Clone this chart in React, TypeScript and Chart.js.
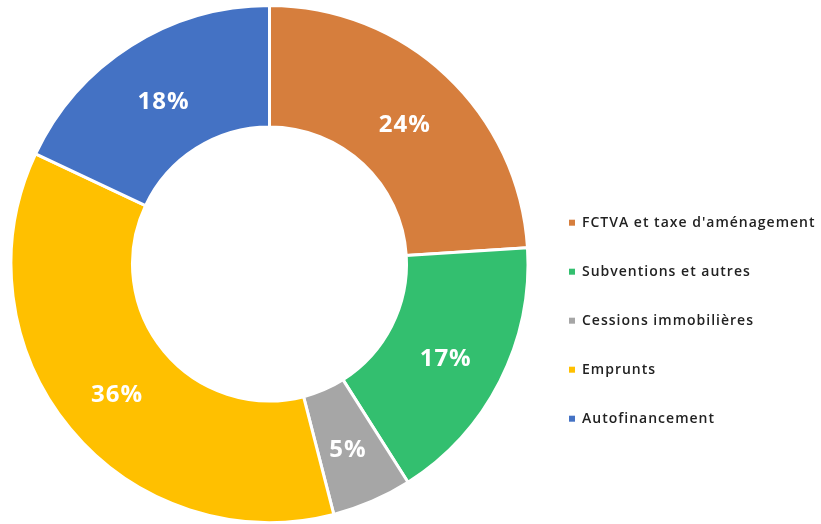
import React, { useEffect, useRef } from "react";
import { Chart, registerables } from "chart.js";

Chart.register(...registerables);

const categories = [
  "FCTVA et taxe d'aménagement",
  "Subventions et autres",
  "Cessions immobilières",
  "Emprunts",
  "Autofinancement",
];
const shares = [24, 17, 5, 36, 18];
const sliceColors = ["#D67E3D", "#33BF6F", "#A6A6A6", "#FFC000", "#4472C4"];

export default function App() {
  const ref = useRef<HTMLCanvasElement>(null);

  useEffect(() => {
    if (!ref.current) return;
    const spacingPlugin = {
      id: "letterSpacing",
      beforeLayout(chart: any) {
        chart.ctx.letterSpacing = "1px";
      },
      beforeDraw(chart: any) {
        chart.ctx.letterSpacing = "1px";
      },
    };
    const labelPlugin = {
      id: "sliceLabels",
      afterDatasetsDraw(chart: any) {
        const ctx = chart.ctx;
        const meta = chart.getDatasetMeta(0);
        ctx.save();
        ctx.letterSpacing = "1px";
        ctx.font = "bold 24px 'Open Sans'";
        ctx.fillStyle = "#ffffff";
        ctx.textAlign = "center";
        ctx.textBaseline = "middle";
        meta.data.forEach((arc: any, i: number) => {
          const p = arc.tooltipPosition(false);
          ctx.fillText(`${shares[i]}%`, p.x, p.y + 5);
        });
        ctx.restore();
      },
    };
    const defaultGen = (Chart as any).overrides.doughnut.plugins.legend.labels.generateLabels;
    const chart = new Chart(ref.current, {
      type: "doughnut",
      data: {
        labels: categories,
        datasets: [
          {
            data: shares,
            backgroundColor: sliceColors,
            borderColor: "#ffffff",
            borderWidth: 3,
          },
        ],
      },
      options: {
        animation: false,
        responsive: true,
        maintainAspectRatio: false,
        events: [],
        cutout: "53%",
        layout: { padding: { left: 5, right: 0, top: 4, bottom: 0 } },
        plugins: {
          tooltip: { enabled: false },
          legend: {
            position: "right",
            align: "center",
            maxWidth: 287,
            title: {
              display: true,
              text: "",
              padding: { top: 99, bottom: 0 },
              font: { size: 12, lineHeight: 1.2 },
            },
            labels: {
              boxWidth: 6,
              boxHeight: 6,
              padding: 35,
              color: "#222222",
              font: { family: "'Open Sans'", size: 14, weight: 600 },
              generateLabels: (c: any) =>
                defaultGen(c).map((it: any) => ({ ...it, lineWidth: 0 })),
            },
          },
        },
      } as any,
      plugins: [spacingPlugin, labelPlugin],
    });
    return () => chart.destroy();
  }, []);

  return (
    <div style={{ position: "fixed", left: 0, top: 0, width: 821, height: 524 }}>
      <canvas ref={ref} />
    </div>
  );
}
